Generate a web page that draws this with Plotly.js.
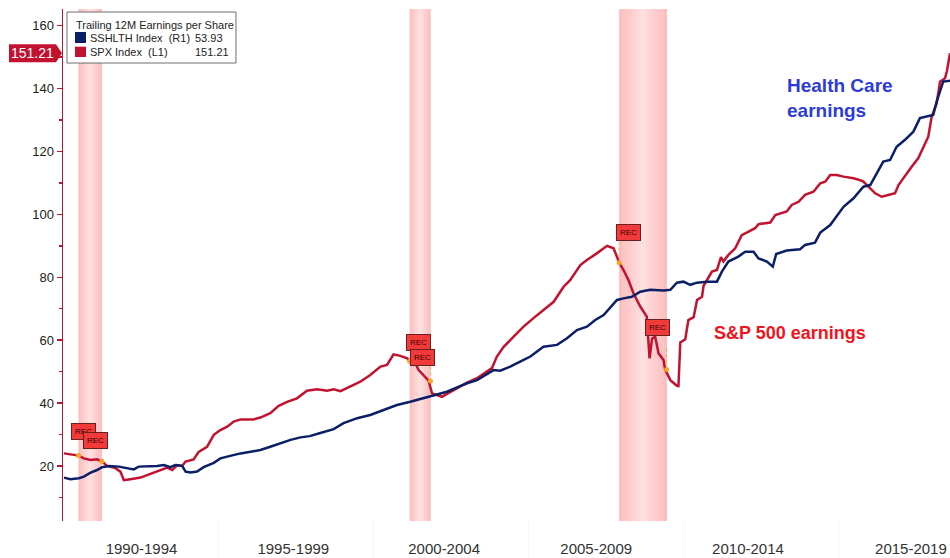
<!DOCTYPE html>
<html>
<head>
<meta charset="utf-8">
<script src="https://cdn.plot.ly/plotly-3.0.1.min.js"></script>
<style>
  html, body { margin: 0; padding: 0; background: #fff; }
  #chart { width: 950px; height: 558px; }
</style>
</head>
<body>
<div id="chart"></div>
<script>
// S&P 500 trailing 12M EPS (left axis, L1)
const spxYears = [1990.03,1990.24,1990.51,1990.67,1990.89,1991.10,1991.26,1991.42,1991.69,1991.85,
  1991.96,1992.17,1992.50,1992.71,1992.92,1993.14,1993.36,1993.52,1993.68,1993.84,
  1993.95,1994.21,1994.37,1994.64,1994.86,1995.07,1995.29,1995.50,1995.72,1996.14,
  1996.36,1996.68,1996.95,1997.22,1997.54,1997.86,1998.19,1998.51,1998.72,1998.94,
  1999.26,1999.58,1999.90,2000.23,2000.44,2000.65,2000.87,2001.09,2001.19,2001.35,
  2001.46,2001.62,2001.78,2001.89,2002.05,2002.21,2002.37,2002.70,2003.02,2003.34,
  2003.66,2003.82,2003.98,2004.20,2004.52,2004.84,2005.16,2005.48,2005.81,2006.13,
  2006.34,2006.67,2006.88,2007.20,2007.53,2007.74,2007.93,2008.06,2008.22,2008.38,
  2008.60,2008.81,2008.90,2008.98,2009.08,2009.19,2009.35,2009.40,2009.57,2009.78,
  2009.83,2009.89,2010.05,2010.15,2010.32,2010.43,2010.59,2010.64,2010.91,2011.07,
  2011.20,2011.28,2011.44,2011.66,2011.87,2012.09,2012.30,2012.41,2012.79,2012.95,
  2013.32,2013.48,2013.70,2013.91,2014.18,2014.40,2014.56,2014.72,2014.93,2015.15,
  2015.47,2015.68,2015.79,2015.95,2016.17,2016.38,2016.65,2016.81,2016.92,2017.14,
  2017.35,2017.56,2017.72,2017.88,2017.99,2018.15,2018.26,2018.42,2018.48,2018.54,
  2018.58];
const spxVals = [24.0,23.7,23.3,22.4,21.9,22.1,21.4,20.0,19.3,18.2,
  15.5,15.8,16.3,17.1,17.9,18.7,19.5,18.7,20.3,20.0,
  21.4,22.1,24.5,26.1,29.9,31.4,32.5,34.1,34.8,34.8,
  35.4,36.8,39.1,40.4,41.5,43.9,44.4,43.9,44.4,43.8,
  45.2,46.8,48.9,51.6,52.1,55.5,55.0,54.2,53.2,52.7,
  50.5,48.9,47.1,43.1,42.6,42.0,42.9,44.7,46.5,47.9,
  50.0,51.1,54.8,57.9,61.1,64.3,67.0,69.6,72.2,77.0,
  79.1,83.9,85.5,87.6,90.0,89.2,84.5,82.3,79.1,74.9,
  70.7,67.5,54.2,60.5,61.1,55.8,53.7,50.7,47.3,45.5,
  45.4,59.3,60.3,66.4,67.3,72.8,73.8,77.3,81.8,82.3,
  86.4,85.0,87.1,89.2,93.4,94.5,95.6,96.9,97.4,99.8,
  100.9,103.0,104.0,106.2,107.2,109.9,110.4,112.5,112.5,112.0,
  111.5,110.9,110.4,108.8,106.7,105.6,106.2,106.7,109.3,112.5,
  115.2,117.9,121.5,124.7,131.1,135.3,142.2,143.3,145.5,149.5,
  151.21];

// S&P 500 Health Care trailing 12M EPS (hidden right axis, R1)
const hcYears = [1990.03,1990.24,1990.51,1990.67,1990.89,1991.10,1991.26,1991.48,1991.80,1992.07,
  1992.28,1992.44,1992.71,1993.03,1993.25,1993.46,1993.62,1993.84,1993.95,1994.11,
  1994.32,1994.53,1994.86,1995.07,1995.39,1995.72,1996.04,1996.36,1996.68,1997.00,
  1997.33,1997.65,1997.95,1998.29,1998.72,1999.04,1999.48,1999.90,2000.33,2000.76,
  2001.19,2001.62,2002.05,2002.37,2002.70,2003.02,2003.34,2003.66,2003.87,2004.09,
  2004.41,2004.73,2005.06,2005.48,2005.92,2006.24,2006.56,2006.88,2007.15,2007.42,
  2007.63,2007.85,2008.06,2008.33,2008.60,2008.92,2009.35,2009.57,2009.78,2009.99,
  2010.21,2010.43,2010.75,2011.07,2011.23,2011.44,2011.76,2011.98,2012.25,2012.41,
  2012.68,2012.87,2012.98,2013.32,2013.75,2013.91,2014.23,2014.40,2014.72,2014.88,
  2015.15,2015.47,2015.79,2016.01,2016.22,2016.43,2016.65,2016.86,2017.13,2017.40,
  2017.61,2018.04,2018.15,2018.36,2018.58];
const hcVals = [6.17,5.98,6.09,6.28,6.77,7.08,7.42,7.57,7.49,7.30,
  7.15,7.49,7.49,7.57,7.68,7.42,7.68,7.57,6.89,6.77,
  6.89,7.42,7.95,8.48,8.78,9.08,9.27,9.50,9.88,10.29,
  10.71,11.01,11.16,11.54,12.00,12.72,13.32,13.70,14.31,14.91,
  15.29,15.71,16.12,16.50,17.03,17.52,17.90,18.66,19.11,19.04,
  19.53,20.13,20.74,21.91,22.14,22.93,23.92,24.33,25.13,25.74,
  26.68,27.55,27.74,27.93,28.54,28.76,28.69,28.76,29.63,29.75,
  29.37,29.63,29.75,29.75,30.96,32.17,32.77,33.34,33.34,32.55,
  32.17,31.56,33.08,33.49,33.65,34.17,34.44,35.65,36.56,37.39,
  38.75,39.78,41.18,41.37,42.80,44.20,44.39,45.98,46.82,47.80,
  49.43,49.80,51.43,53.82,53.93];

// recessions and the SPX level where each one starts / ends
const recStart = [1990.50, 2001.17, 2007.92];
const recEnd = [1991.25, 2001.84, 2009.45];
const recStartSpx = [23.3, 53.3, 84.6];
const recEndSpx = [21.5, 47.0, 50.7];

const tickText = ["1990-1994", "1995-1999", "2000-2004", "2005-2009", "2010-2014", "2015-2019"];
const tickPos = [1992.53, 1997.42, 2002.28, 2007.18, 2012.07, 2017.32];
const periodBreaks = [1995, 2000, 2005, 2010, 2015];

const RED = "#c3122f";
const NAVY = "#0b1f66";
const FONT = "Liberation Sans, Arial, sans-serif";
const yRange = [2.5, 165.3];

const shapes = [];
// pink recession bands, lighter in the middle
recStart.forEach(function (s, i) {
    const e = recEnd[i];
    const n = 15;
    for (let k = 0; k < n; k++) {
        const t = Math.abs((k + 0.5) / n - 0.5) * 2;
        const g = Math.round(224 - 38 * t);
        shapes.push({
            type: "rect", layer: "below", xref: "x", yref: "paper",
            x0: s + (e - s) * k / n, x1: s + (e - s) * (k + 1) / n + 0.01, y0: 0, y1: 1,
            fillcolor: "rgb(253," + g + "," + g + ")", line: { width: 0 }
        });
    }
});
// dotted leaders from REC tags
const leaders = [[recEnd[1], recEndSpx[1], 52.0], [recEnd[2], recEndSpx[2], 58.0], [recStart[2], recStartSpx[2], 91.0]];
leaders.forEach(function (l) {
    shapes.push({ type: "line", xref: "x", yref: "y", x0: l[0], x1: l[0], y0: l[1], y1: l[2],
        line: { color: "#f5b041", width: 1, dash: "dot" } });
});
// faint separators under the axis
periodBreaks.forEach(function (b) {
    shapes.push({ type: "line", xref: "x", yref: "paper", x0: b, x1: b, y0: -0.072, y1: 0,
        line: { color: "#f6f6f6", width: 1 } });
});
// legend box
shapes.push({ type: "rect", layer: "above", xref: "paper", yref: "paper",
    x0: 0.0045, x1: 0.195, y0: 0.8945, y1: 0.9941, fillcolor: "#ffffff",
    line: { color: "#6e6e6e", width: 1 } });
shapes.push({ type: "rect", layer: "above", xref: "paper", yref: "paper",
    x0: 0.0135, x1: 0.0259, y0: 0.9336, y1: 0.9551, fillcolor: NAVY, line: { width: 0 } });
shapes.push({ type: "rect", layer: "above", xref: "paper", yref: "paper",
    x0: 0.0135, x1: 0.0259, y0: 0.9063, y1: 0.9264, fillcolor: RED, line: { width: 0 } });
// last value tag on the left axis
const lastSpx = spxVals[spxVals.length - 1];
const tagY = (lastSpx - yRange[0]) / (yRange[1] - yRange[0]);
shapes.push({ type: "path", layer: "above", xref: "paper", yref: "paper",
    path: "M -0.0609," + (tagY + 0.0176) + " L -0.0079," + (tagY + 0.0176) + " L -0.0011," + tagY +
        " L -0.0079," + (tagY - 0.0176) + " L -0.0609," + (tagY - 0.0176) + " Z",
    fillcolor: RED, line: { width: 0 } });

const LEG = { family: FONT, size: 11, color: "#222" };
const annotations = [
    { xref: "paper", yref: "paper", x: 0.0124, y: 0.9688, xanchor: "left", yanchor: "middle", showarrow: false,
      text: "Trailing 12M Earnings per Share", font: LEG },
    { xref: "paper", yref: "paper", x: 0.0282, y: 0.9434, xanchor: "left", yanchor: "middle", showarrow: false,
      text: "SSHLTH Index\u00a0\u00a0(R1)", font: LEG },
    { xref: "paper", yref: "paper", x: 0.1462, y: 0.9434, xanchor: "left", yanchor: "middle", showarrow: false,
      text: hcVals[hcVals.length - 1].toFixed(2), font: LEG },
    { xref: "paper", yref: "paper", x: 0.0282, y: 0.9160, xanchor: "left", yanchor: "middle", showarrow: false,
      text: "SPX Index\u00a0\u00a0(L1)", font: LEG },
    { xref: "paper", yref: "paper", x: 0.1462, y: 0.9160, xanchor: "left", yanchor: "middle", showarrow: false,
      text: lastSpx.toFixed(2), font: LEG },
    { xref: "paper", yref: "paper", x: -0.0344, y: tagY, xanchor: "center", yanchor: "middle", showarrow: false,
      text: lastSpx.toFixed(2), font: { family: FONT, size: 14, color: "#ffffff" } },
    { xref: "paper", yref: "paper", x: 0.814, y: 0.875, xanchor: "left", yanchor: "top", align: "left", showarrow: false,
      text: "<b>Health Care<br>earnings</b>", font: { family: FONT, size: 19, color: "#2e3bd8" } },
    { xref: "paper", yref: "paper", x: 0.732, y: 0.367, xanchor: "left", yanchor: "middle", showarrow: false,
      text: "<b>S&P 500 earnings</b>", font: { family: FONT, size: 18, color: "#f01420" } }
];
// REC event tags
const recTags = [[1990.66, 31.0], [1991.05, 28.0], [2001.45, 59.4], [2001.57, 54.6], [2008.21, 94.1], [2009.14, 63.9]];
recTags.forEach(function (t) {
    annotations.push({ xref: "x", yref: "y", x: t[0], y: t[1], showarrow: false, text: "REC",
        font: { family: FONT, size: 8, color: "#3a0000" }, bgcolor: "#f23a3a",
        bordercolor: "#6b2020", borderwidth: 1, borderpad: 3 });
});

const traces = [
    { x: hcYears, y: hcVals, yaxis: "y2", type: "scatter", mode: "lines", name: "SSHLTH Index",
      line: { color: NAVY, width: 2.5 }, hoverinfo: "skip" },
    { x: spxYears, y: spxVals, yaxis: "y", type: "scatter", mode: "lines", name: "SPX Index",
      line: { color: RED, width: 2.5 }, hoverinfo: "skip" },
    { x: recStart.concat(recEnd), y: recStartSpx.concat(recEndSpx), type: "scatter", mode: "markers",
      marker: { color: "#f5a623", size: 5 }, hoverinfo: "skip" }
];

const layout = {
    width: 950, height: 558,
    margin: { l: 63, r: 0, t: 9, b: 37 },
    paper_bgcolor: "#ffffff", plot_bgcolor: "#ffffff",
    showlegend: false,
    font: { family: FONT, color: "#222" },
    xaxis: {
        range: [1990.0, 2018.58], tickvals: tickPos, ticktext: tickText,
        ticks: "outside", ticklen: 14, tickcolor: "rgba(0,0,0,0)",
        showgrid: false, zeroline: false, showline: false,
        tickfont: { family: FONT, size: 15, color: "#333" }
    },
    yaxis: {
        range: yRange, tickvals: [20, 40, 60, 80, 100, 120, 140, 160],
        ticks: "outside", ticklen: 5, tickcolor: RED, tickwidth: 1.5,
        showline: true, linecolor: RED, linewidth: 1.5,
        showgrid: false, zeroline: false,
        minor: { tick0: 0, dtick: 10, ticks: "outside", ticklen: 3, tickcolor: RED, tickwidth: 1.5 },
        tickfont: { family: FONT, size: 13, color: "#222" }
    },
    yaxis2: {
        overlaying: "y", side: "right", visible: false,
        range: [0.946, 62.56]
    },
    shapes: shapes,
    annotations: annotations
};

Plotly.newPlot("chart", traces, layout, { displayModeBar: false, staticPlot: true });
</script>
</body>
</html>
